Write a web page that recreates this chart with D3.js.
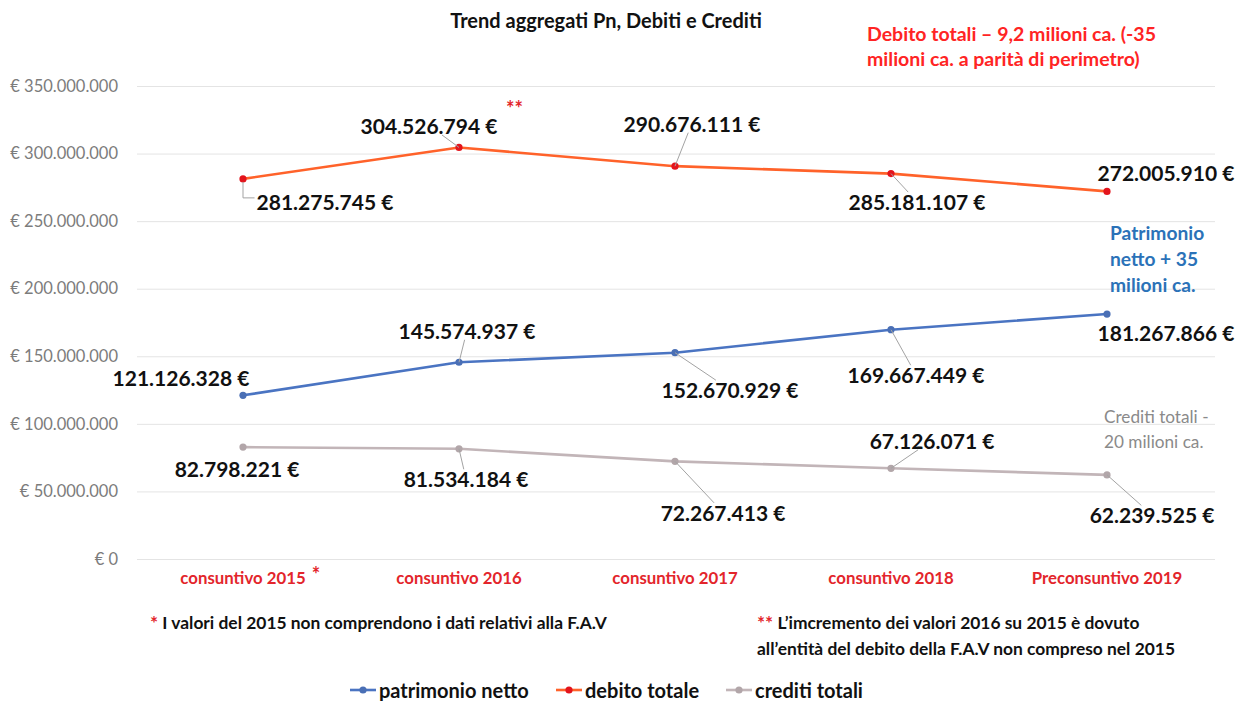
<!DOCTYPE html>
<html>
<head>
<meta charset="utf-8">
<script src="https://cdn.jsdelivr.net/npm/d3@7"></script>
<style>
  body { margin: 0; background: #fff; }
  svg { display: block; font-family: Lato, "Open Sans", sans-serif; }
</style>
</head>
<body>
<div id="chart"></div>
<script>
// data
const categories = ["consuntivo 2015", "consuntivo 2016", "consuntivo 2017", "consuntivo 2018", "Preconsuntivo 2019"];
const patrimonioNetto = [121126328, 145574937, 152670929, 169667449, 181267866];
const debitoTotale = [281275745, 304526794, 290676111, 285181107, 272005910];
const creditiTotali = [82798221, 81534184, 72267413, 67126071, 62239525];
const yTicks = [0, 50000000, 100000000, 150000000, 200000000, 250000000, 300000000, 350000000];

// label placement (offset of the label centre from its point, and leader style)
const labelLayout = {
    debito: [[82, 23, "elbow"], [-30, -22, "line"], [17, -43, "line"], [26, 28, "line"], [59, -19, null]],
    patrimonio: [[-62, -18, null], [8, -32, "line"], [55, 37, "line"], [25, 45, "line"], [59, 18, null]],
    crediti: [[-6, 21, null], [7, 30, "line"], [48, 51, "line"], [41, -28, "line"], [45, 40, "line"]]
};

const series = [
    { key: "patrimonio", name: "patrimonio netto", values: patrimonioNetto, line: "#4a74c2", dot: "#4a6fb5" },
    { key: "debito", name: "debito totale", values: debitoTotale, line: "#ff622a", dot: "#e3141c" },
    { key: "crediti", name: "crediti totali", values: creditiTotali, line: "#c2b5b8", dot: "#b2a6a9" }
];

const width = 1240, height = 701;
const locale = d3.formatLocale({ decimal: ",", thousands: ".", grouping: [3], currency: ["€", ""] });
const fmt = locale.format(",");

const svg = d3.select("#chart").append("svg")
    .attr("width", width)
    .attr("height", height);

const x = d3.scaleBand().domain(categories).range([135, 1215]);
const y = d3.scaleLinear().domain([0, 350000000]).range([559, 86]);
const cx = d => x(d) + x.bandwidth() / 2;

// gridlines + y labels
const yAxis = d3.axisLeft(y)
    .tickValues(yTicks)
    .tickSize(-(1215 - 137))
    .tickPadding(19)
    .tickFormat(d => "€ " + fmt(d));

svg.append("g")
    .attr("transform", "translate(137,0)")
    .call(yAxis)
    .call(g => g.select(".domain").remove())
    .call(g => g.selectAll(".tick line").attr("stroke", "#e4e4e4").attr("stroke-width", 1))
    .call(g => g.selectAll(".tick text")
        .attr("fill", "#7c7c7c")
        .style("font-size", "16.5px")
        .style("font-family", "Lato"));

// x categories
const xAxis = d3.axisBottom(x).tickSize(0).tickPadding(13);
const xg = svg.append("g")
    .attr("transform", "translate(0,559)")
    .call(xAxis)
    .call(g => g.select(".domain").remove())
    .call(g => g.selectAll(".tick text")
        .attr("fill", "#e3252b")
        .style("font-size", "16.8px")
        .style("font-weight", 700)
        .style("font-family", "Lato"));

// red asterisk next to 2015
const firstTick = xg.select(".tick text").node();
const fb = firstTick.getBBox();
svg.append("text")
    .attr("x", cx(categories[0]) + fb.x + fb.width + 6)
    .attr("y", 582)
    .attr("fill", "#e3252b")
    .style("font-size", "20px")
    .style("font-weight", 700)
    .text("*");

// lines and markers
const line = d3.line().x((d, i) => cx(categories[i])).y(d => y(d));

series.forEach(s => {
    svg.append("path")
        .datum(s.values)
        .attr("fill", "none")
        .attr("stroke", s.line)
        .attr("stroke-width", 2.6)
        .attr("stroke-linejoin", "round")
        .attr("d", line);

    svg.append("g")
        .selectAll("circle")
        .data(s.values)
        .join("circle")
        .attr("cx", (d, i) => cx(categories[i]))
        .attr("cy", d => y(d))
        .attr("r", 3.6)
        .attr("fill", s.dot);
});

// data labels with leader lines
const leaders = svg.append("g").attr("stroke", "#a3a3a3").attr("stroke-width", 1).attr("fill", "none");
const labels = svg.append("g");

series.forEach(s => {
    s.values.forEach((v, i) => {
        const px = cx(categories[i]), py = y(v);
        const [dx, dy, kind] = labelLayout[s.key][i];
        const t = labels.append("text")
            .attr("x", px + dx)
            .attr("y", py + dy)
            .attr("text-anchor", "middle")
            .attr("dominant-baseline", "central")
            .attr("fill", "#111")
            .style("font-size", "21px")
            .style("font-weight", 700)
            .text(fmt(v) + " €");
        if (!kind) return;
        const b = t.node().getBBox();
        const x0 = b.x - 2, x1 = b.x + b.width + 2, y0 = b.y + 3, y1 = b.y + b.height - 3;
        if (kind === "elbow") {
            leaders.append("path")
                .attr("d", `M${px},${py + 3}V${(y0 + y1) / 2 - 4}H${x0}`);
            return;
        }
        // clip segment point -> label centre at the label box
        const tx = px + dx, ty = py + dy;
        let tt = 1;
        if (ty > py && y0 > py) tt = Math.min(tt, (y0 - py) / (ty - py));
        if (ty < py && y1 < py) tt = Math.min(tt, (py - y1) / (py - ty));
        if (tx > px && x0 > px) tt = Math.min(tt, Math.max((x0 - px) / (tx - px), (ty > py ? (y0 - py) / (ty - py) : (py - y1) / (py - ty))));
        leaders.append("line")
            .attr("x1", px).attr("y1", py)
            .attr("x2", px + (tx - px) * tt)
            .attr("y2", py + (ty - py) * tt);
    });
});

// title
svg.append("text")
    .attr("x", 606)
    .attr("y", 20)
    .attr("text-anchor", "middle")
    .attr("dominant-baseline", "central")
    .attr("fill", "#111")
    .style("font-size", "20px")
    .style("font-weight", 700)
    .text("Trend aggregati Pn, Debiti e Crediti");

// "**" near 2016 debt
svg.append("text")
    .attr("x", 506)
    .attr("y", 116)
    .attr("fill", "#e3252b")
    .style("font-size", "20px")
    .style("font-weight", 700)
    .text("**");

// annotations
function block(lines, xPos, yPos, lh, color, size, weight) {
    svg.append("g").selectAll("text")
        .data(lines)
        .join("text")
        .attr("x", xPos)
        .attr("y", (d, i) => yPos + i * lh)
        .attr("dominant-baseline", "central")
        .attr("fill", color)
        .style("font-size", size)
        .style("font-weight", weight)
        .text(d => d);
}
block(["Debito totali – 9,2 milioni ca. (-35", "milioni ca. a parità di perimetro)"], 867, 33, 25.5, "#ff2424", "19.5px", 700);
block(["Patrimonio", "netto + 35", "milioni ca."], 1110, 232, 26, "#2b72b8", "19.2px", 700);
block(["Crediti totali -", "20 milioni ca."], 1104, 416, 25.5, "#8a8a8a", "17.2px", 400);

// footnotes
const noteSize = "17.4px";
const f1 = svg.append("text").attr("x", 150).attr("y", 622)
    .attr("dominant-baseline", "central")
    .style("font-size", noteSize).style("font-weight", 700);
f1.append("tspan").attr("fill", "#e3252b").style("font-size", "19px").text("*");
f1.append("tspan").attr("fill", "#111").text(" I valori del 2015 non comprendono i dati relativi alla F.A.V");

const f2 = svg.append("text").attr("x", 757).attr("y", 622)
    .attr("dominant-baseline", "central")
    .style("font-size", noteSize).style("font-weight", 700);
f2.append("tspan").attr("fill", "#e3252b").style("font-size", "19px").text("**");
f2.append("tspan").attr("fill", "#111").text(" L’imcremento dei valori 2016 su 2015 è dovuto");
svg.append("text").attr("x", 757).attr("y", 648)
    .attr("dominant-baseline", "central")
    .attr("fill", "#111")
    .style("font-size", noteSize).style("font-weight", 700)
    .text("all’entità del debito della F.A.V non compreso nel 2015");

// legend
const legendX = [350, 556, 726];
const legend = svg.append("g").selectAll("g")
    .data(series)
    .join("g")
    .attr("transform", (d, i) => `translate(${legendX[i]},690)`);
legend.append("line")
    .attr("x1", 0).attr("x2", 26)
    .attr("stroke", d => d.line)
    .attr("stroke-width", 2.6);
legend.append("circle")
    .attr("cx", 13).attr("r", 3.6)
    .attr("fill", d => d.dot);
legend.append("text")
    .attr("x", 29)
    .attr("dominant-baseline", "central")
    .attr("fill", "#111")
    .style("font-size", "20px")
    .style("font-weight", 700)
    .text(d => d.name);
</script>
</body>
</html>
